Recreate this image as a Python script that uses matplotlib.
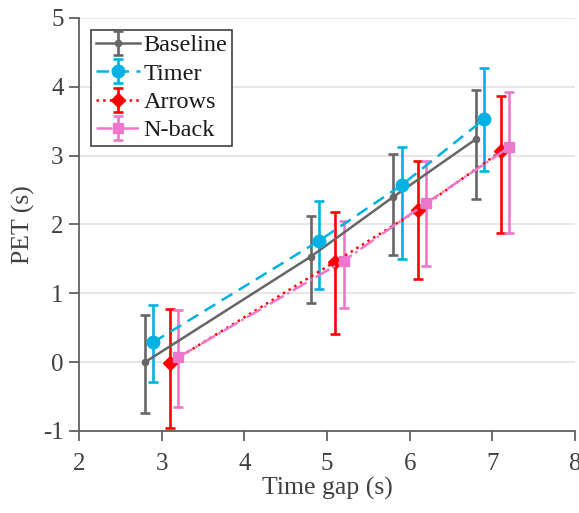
import numpy as np
import matplotlib
matplotlib.use('Agg')
import matplotlib.pyplot as plt

plt.rcParams['font.family'] = ['Liberation Serif', 'DejaVu Serif']
plt.rcParams['axes.unicode_minus'] = False

# time gap positions (slightly offset per condition)
x_baseline = [2.8, 4.8, 5.8, 6.8]
x_timer = [2.9, 4.9, 5.9, 6.9]
x_arrows = [3.1, 5.1, 6.1, 7.1]
x_nback = [3.2, 5.2, 6.2, 7.2]

# mean PET and error bar ends (low, high)
pet_baseline = [0.00, 1.53, 2.40, 3.24]
low_baseline = [-0.74, 0.86, 1.56, 2.37]
high_baseline = [0.68, 2.12, 3.02, 3.95]

pet_timer = [0.29, 1.76, 2.57, 3.53]
low_timer = [-0.29, 1.06, 1.50, 2.78]
high_timer = [0.83, 2.34, 3.12, 4.27]

pet_arrows = [-0.01, 1.46, 2.21, 3.06]
low_arrows = [-0.96, 0.41, 1.21, 1.88]
high_arrows = [0.77, 2.18, 2.92, 3.87]

pet_nback = [0.07, 1.47, 2.31, 3.12]
low_nback = [-0.65, 0.78, 1.40, 1.88]
high_nback = [0.76, 2.05, 2.92, 3.93]

series = [
    ('Baseline', x_baseline, pet_baseline, low_baseline, high_baseline, '#666666', '-', 'o', 4.5),
    ('Timer', x_timer, pet_timer, low_timer, high_timer, '#00B2E3', (0, (5, 3)), 'o', 9),
    ('Arrows', x_arrows, pet_arrows, low_arrows, high_arrows, '#FF0000', ':', 'D', 7),
    ('N-back', x_nback, pet_nback, low_nback, high_nback, '#EE77CC', '-.', 's', 6.5),
]

fig = plt.figure(figsize=(5.79, 5.13), dpi=100)
ax = fig.add_axes([0.1364, 0.16, 0.857, 0.805])

for name, x, y, lo, hi, color, ls, mk, ms in series:
    y = np.array(y)
    yerr = [y - np.array(lo), np.array(hi) - y]
    ax.errorbar(x, y, yerr=yerr, color=color, linestyle=ls, marker=mk,
                markersize=ms, linewidth=1.8, elinewidth=1.9, capsize=3.5,
                capthick=1.9, label=name)

ax.set_xlim(2, 8)
ax.set_ylim(-1, 5)
ax.set_xticks(range(2, 9))
ax.set_yticks(range(-1, 6))
ax.yaxis.grid(True, color='#e3e3e3', linewidth=1.2)
ax.set_axisbelow(True)
for s in ['top', 'right']:
    ax.spines[s].set_visible(False)
for s in ['left', 'bottom']:
    ax.spines[s].set_color('#606060')
    ax.spines[s].set_linewidth(1.3)
ax.tick_params(direction='out', labelsize=18, colors='#606060', labelcolor='#404040',
               length=7, width=1.3)
ax.tick_params(axis='x', pad=9)
ax.tick_params(axis='y', pad=4)
ax.set_xlabel('Time gap (s)', fontsize=18.5, color='#404040', labelpad=1)
ax.set_ylabel('PET (s)', fontsize=18.5, color='#404040', labelpad=6)

leg = ax.legend(loc='upper left', fontsize=17.5, fancybox=False, framealpha=1,
                edgecolor='#404040', labelcolor='#1a1a1a', handlelength=1.85,
                handletextpad=0.12, borderpad=0.2, labelspacing=0.26,
                borderaxespad=0.48)
leg.get_frame().set_linewidth(1.2)

fig.savefig('out.png', dpi=100)
